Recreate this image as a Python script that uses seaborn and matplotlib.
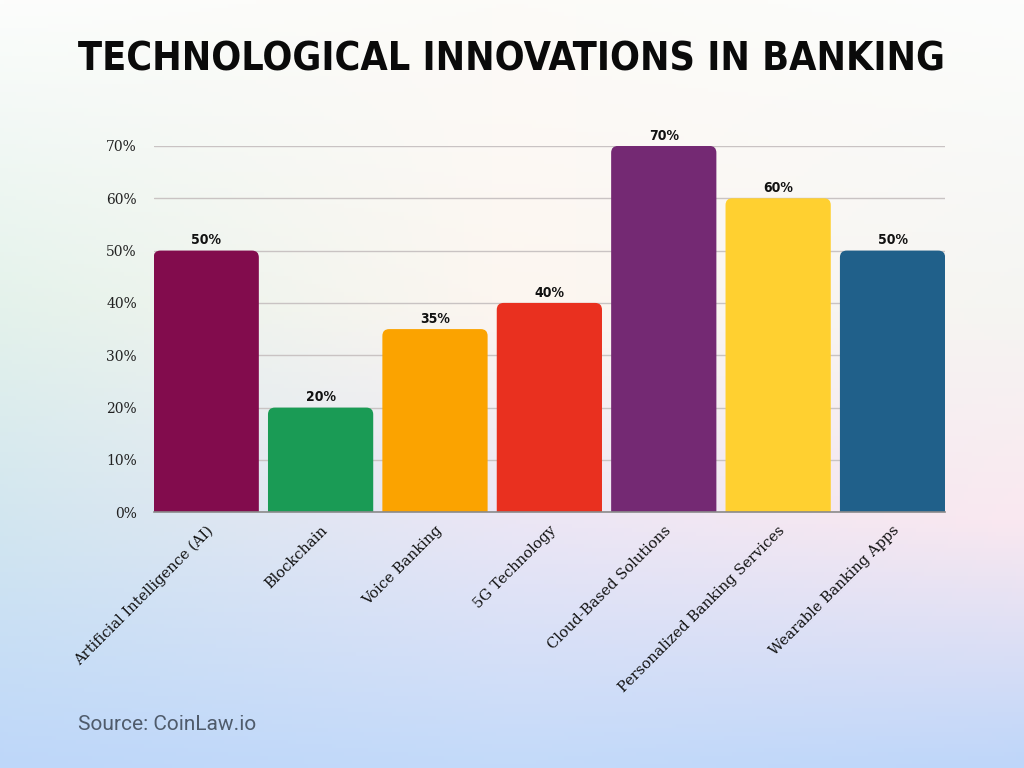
import numpy as np
import pandas as pd
import matplotlib
matplotlib.use("Agg")
import matplotlib.pyplot as plt
from matplotlib.patches import FancyBboxPatch
import seaborn as sns

# chart data
innovations = ["Artificial Intelligence (AI)", "Blockchain", "Voice Banking", "5G Technology",
               "Cloud-Based Solutions", "Personalized Banking Services", "Wearable Banking Apps"]
adoption = [50, 20, 35, 40, 70, 60, 50]
bar_colors = ["#820C4D", "#1A9B55", "#FBA300", "#E9301F", "#742973", "#FFD030", "#20608A"]
y_ticks = [0, 10, 20, 30, 40, 50, 60, 70]

df = pd.DataFrame({"innovation": innovations, "adoption": adoption})

sns.set_theme(style="white")
plt.rcParams["font.family"] = ["DejaVu Sans"]

fig = plt.figure(figsize=(10.24, 7.68), dpi=100)

# soft gradient background
rows_y = [0.0, 0.4, 0.68, 1.0]
grid_cols = np.array([
    [[252, 253, 252], [252, 251, 248], [252, 253, 252]],
    [[228, 242, 235], [253, 246, 240], [245, 245, 242]],
    [[210, 230, 240], [235, 230, 245], [250, 232, 240]],
    [[190, 215, 250], [195, 218, 250], [190, 214, 250]],
], dtype=float) / 255.0
H, W = 192, 256
yy = np.linspace(0, 1, H)
xx = np.linspace(0, 1, W)
cols_x = [0.0, 0.5, 1.0]
tmp = np.zeros((len(rows_y), W, 3))
for r in range(len(rows_y)):
    for c in range(3):
        tmp[r, :, c] = np.interp(xx, cols_x, grid_cols[r, :, c])
bg = np.zeros((H, W, 3))
for j in range(W):
    for c in range(3):
        bg[:, j, c] = np.interp(yy, rows_y, tmp[:, j, c])
bg_ax = fig.add_axes([0, 0, 1, 1], zorder=-10)
bg_ax.imshow(bg, aspect="auto", extent=[0, 1, 0, 1], origin="upper")
bg_ax.axis("off")

ax = fig.add_axes([0.150, 0.333, 0.773, 0.477])
ax.patch.set_alpha(0)
sns.barplot(data=df, x="innovation", y="adoption", hue="innovation",
            palette=bar_colors, width=0.92, saturation=1, legend=False, ax=ax,
            edgecolor="none", linewidth=0)

ax.set_xlim(-0.46, 6.46)
ax.set_ylim(0, 70)

# swap the plain bars for ones with rounded top corners
bbox = ax.get_window_extent()
px_x = bbox.width / 6.92
px_y = bbox.height / 70
for p in list(ax.patches):
    x0, w, h = p.get_x(), p.get_width(), p.get_height()
    fc = p.get_facecolor()
    p.set_visible(False)
    rb = FancyBboxPatch((x0, -3), w, h + 3, boxstyle="round,pad=0,rounding_size=0.06",
                        mutation_aspect=px_x / px_y, facecolor=fc, edgecolor="none",
                        zorder=3)
    ax.add_patch(rb)

ax.set_yticks(y_ticks)
ax.set_yticklabels([f"{t}%" for t in y_ticks], fontfamily="DejaVu Serif", fontsize=10, color="#222222")
ax.yaxis.grid(True, color="#c9c3c3", linewidth=1, zorder=0)
ax.set_axisbelow(True)
for s in ["top", "right", "left"]:
    ax.spines[s].set_visible(False)
ax.spines["bottom"].set_color("#8a8a8a")
ax.spines["bottom"].set_linewidth(1.2)
ax.spines["bottom"].set_zorder(4)
ax.tick_params(axis="y", length=0, pad=12)
ax.tick_params(axis="x", length=0, pad=8)
ax.set_xlabel("")
ax.set_ylabel("")

ax.set_xticks(range(len(innovations)))
ax.set_xticklabels(innovations, rotation=45, ha="right", rotation_mode="anchor",
                   fontfamily="DejaVu Serif", fontsize=10.5, color="#111111")

for i, v in enumerate(adoption):
    ax.text(i, v + 0.6, f"{v}%", ha="center", va="bottom", fontsize=10,
            fontweight="bold", fontstretch="condensed", color="#111111", clip_on=False)

# title: fit the text to the width of the reference title
title = fig.text(0.5, 0.922, "TECHNOLOGICAL INNOVATIONS IN BANKING", ha="center", va="center",
                 fontsize=30, fontweight="bold", fontstretch="condensed", color="#0a0a0a")
fig.canvas.draw()
tw = title.get_window_extent().width
title.set_fontsize(30 * 864 / tw)

fig.text(0.076, 0.056, "Source: CoinLaw.io", ha="left", va="center", fontsize=15,
         family=["Roboto", "DejaVu Sans"], color="#4f5b6b")

fig.savefig("out.png", dpi=100)
